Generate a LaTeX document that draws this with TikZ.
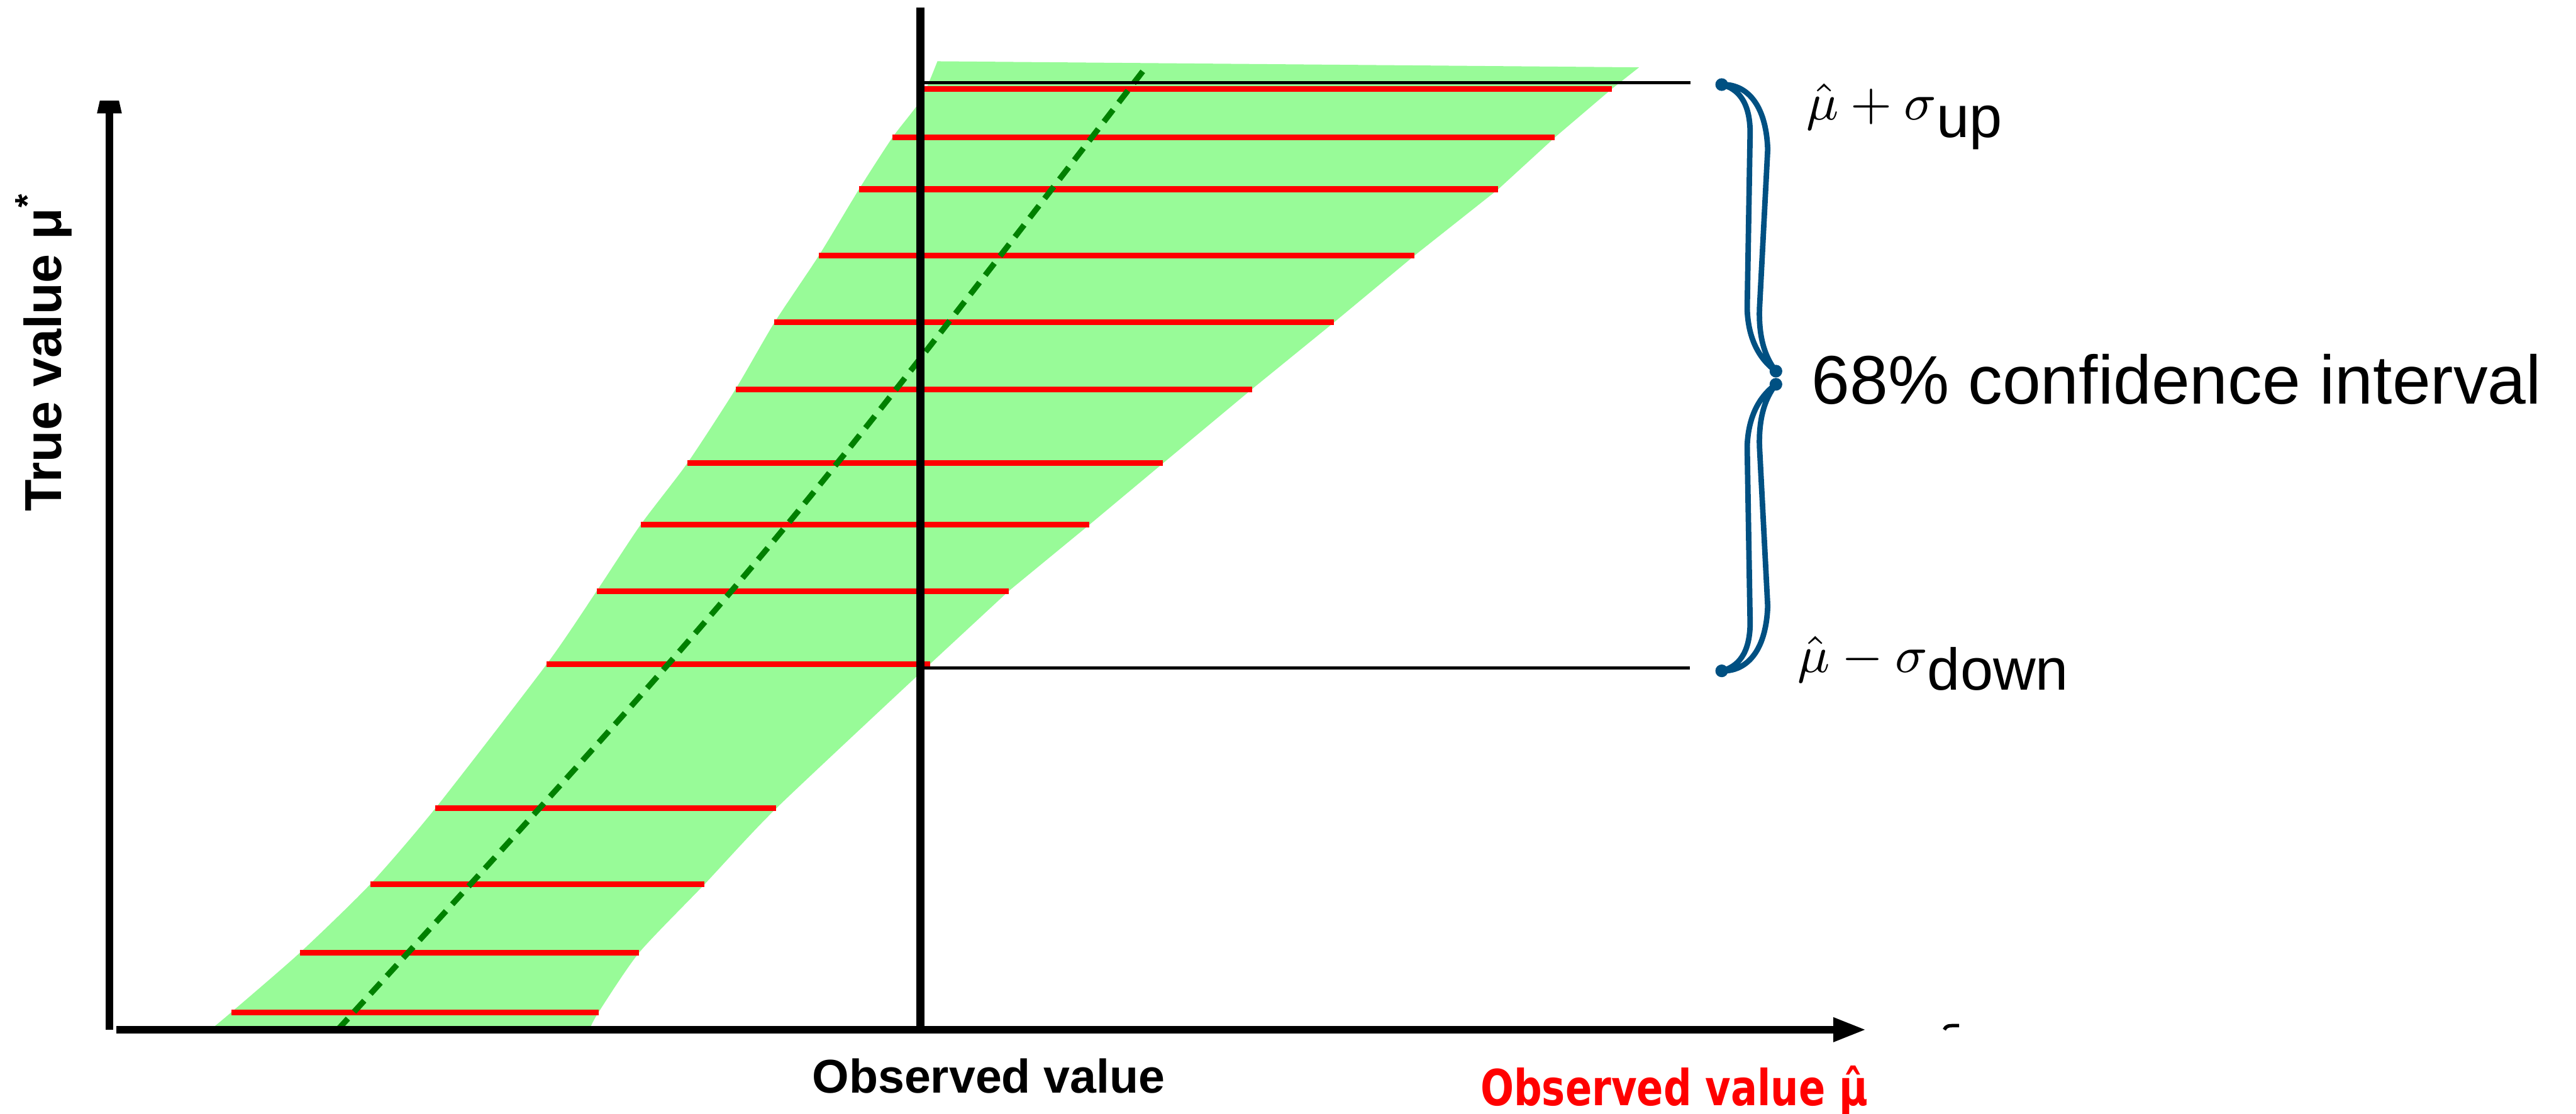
\documentclass[tikz,border=0pt]{standalone}
\usepackage{fontspec}
\setsansfont{Liberation Sans}
\newfontfamily\redfont[FakeStretch=0.79]{DejaVu Sans}
\usetikzlibrary{arrows.meta}
\definecolor{bandgreen}{RGB}{152,251,152}
\definecolor{dashgreen}{RGB}{0,128,0}
\definecolor{braceblue}{RGB}{0,80,130}

\begin{document}
\begin{tikzpicture}[
			x=0.01cm, y=-0.01cm,
			axis/.style={line width=1.3pt},
			errbar/.style={red, line width=1pt},
			guide/.style={line width=0.55pt},
			bracepart/.style={draw=braceblue, line width=0.95pt, line join=round},
			every node/.style={inner sep=0pt}
			]
			\useasboundingbox (0,0) rectangle (1568,678);
			\coordinate (origin) at (66.6,627);
			\coordinate (ytop) at (66.6,34);
			\coordinate (xstart) at (71,627);
			\coordinate (xend) at (1136,627);
			\coordinate (obstop) at (560.4,4.6);
			\coordinate (obsbot) at (560.4,627);
			\coordinate (hiL) at (562,50.5);
			\coordinate (hiR) at (1029,50.5);
			\coordinate (loL) at (562,406.6);
			\coordinate (loR) at (1028.8,406.6);
			
			\fill[bandgreen] plot[smooth, tension=0.4] coordinates {(128.1,627) (140.8,616.4) (182.7,580) (225.3,538.5) (265,492.2) (332.8,404.4) (363.2,359.9) (389.9,319.6) (418.4,282) (447.7,237) (471.4,196.4) (498.4,155.7) (522.9,115.2) (543.3,83.6) (560.4,61) (570.6,37.3)}
				-- (997.7,41) -- (981,54.2) -- (946.5,83.6) -- (912,115.2) -- (861,155.6) -- (812,196.3) -- (762,237) -- (708,282) -- (663,319.6) -- (614,359.9) -- (566,404.4)
				-- plot[smooth, tension=0.4] coordinates {(566,404.4) (472.5,492.2) (428.8,538.5) (389.1,580) (364.3,616.4) (358.7,627)}
				-- cycle;
			
			\foreach \y/\a/\b in {54.2/558/981, 83.6/543.3/946.5, 115.2/522.9/912, 155.6/498.4/861, 196.3/471.4/812, 237/447.7/762, 282/418.4/708, 319.6/389.9/663, 359.9/363.2/614, 404.4/332.8/566, 492.2/265/472.5, 538.5/225.3/428.8, 580/182.7/389.1, 616.4/140.8/364.3}
				\draw[errbar] (\a,\y) -- (\b,\y);
			
			\draw[dashgreen, line width=1pt, dash pattern=on 2.6pt off 1.6pt] (205.6,627) .. controls (463,345) .. (696.7,42);
			
			\draw[axis, line width=1.4pt] (obsbot) -- (obstop);
			\draw[axis, -{Triangle[length=0.2cm, width=0.137cm]}] (xstart) -- (xend);
			\begin{scope}
				\clip (0,61.5) rectangle (200,678);
				\draw[axis, -{Triangle[length=0.35cm, width=0.137cm]}] (origin) -- (ytop);
			\end{scope}
			\draw[line width=0.6pt] (1183.5,627) .. controls (1185,624.5) .. (1192.5,624.5);
			
			\draw[guide] (hiL) -- (hiR);
			\draw[guide] (loL) -- (loR);
			
			\draw[bracepart] (1048,51.5) .. controls (1062,51) and (1075,62) .. (1076,91)
				-- (1071,188) .. controls (1070.5,205) and (1074,217) .. (1081,226)
				.. controls (1070,218) and (1064,205) .. (1063.5,188)
				-- (1065.3,80) .. controls (1065,62) and (1058,54) .. (1048,51.5) -- cycle;
			\fill[braceblue] (1048,51.5) circle[radius=1.1pt] (1081,226) circle[radius=1.1pt];
			\begin{scope}[shift={(0,460)}, yscale=-1]
				\draw[bracepart] (1048,51.5) .. controls (1062,51) and (1075,62) .. (1076,91)
					-- (1071,188) .. controls (1070.5,205) and (1074,217) .. (1081,226)
					.. controls (1070,218) and (1064,205) .. (1063.5,188)
					-- (1065.3,80) .. controls (1065,62) and (1058,54) .. (1048,51.5) -- cycle;
				\fill[braceblue] (1048,51.5) circle[radius=1.1pt] (1081,226) circle[radius=1.1pt];
			\end{scope}
			
			\node[anchor=base west, font=\fontsize{9.3}{11}\selectfont] (hilabel) at (1099,73)
				{$\hat{\mu}+\sigma$\raisebox{-3pt}{\sffamily\fontsize{10.2}{12}\selectfont up}};
			\node[anchor=base west, font=\fontsize{9.3}{11}\selectfont] (lolabel) at (1093.5,409.5)
				{$\hat{\mu}-\sigma$\raisebox{-3pt}{\sffamily\fontsize{10.2}{12}\selectfont down}};
			\node[anchor=base west, font=\sffamily\fontsize{11.9}{14}\selectfont] (conf) at (1102,246)
				{68\% confidence interval};
			\node[anchor=base, font=\sffamily\bfseries\fontsize{8.2}{10}\selectfont] (obs) at (601.8,665.7)
				{Observed value};
			\node[anchor=base west, text=red, font=\redfont\bfseries\fontsize{8.6}{10}\selectfont] (obshat) at (900.5,673)
				{Observed value μ̂};
			\node[anchor=base, rotate=90, font=\sffamily\bfseries\fontsize{9}{11}\selectfont] (truelabel) at (37.4,214)
				{True value μ\textsuperscript{*}};
		\end{tikzpicture}
\end{document}
